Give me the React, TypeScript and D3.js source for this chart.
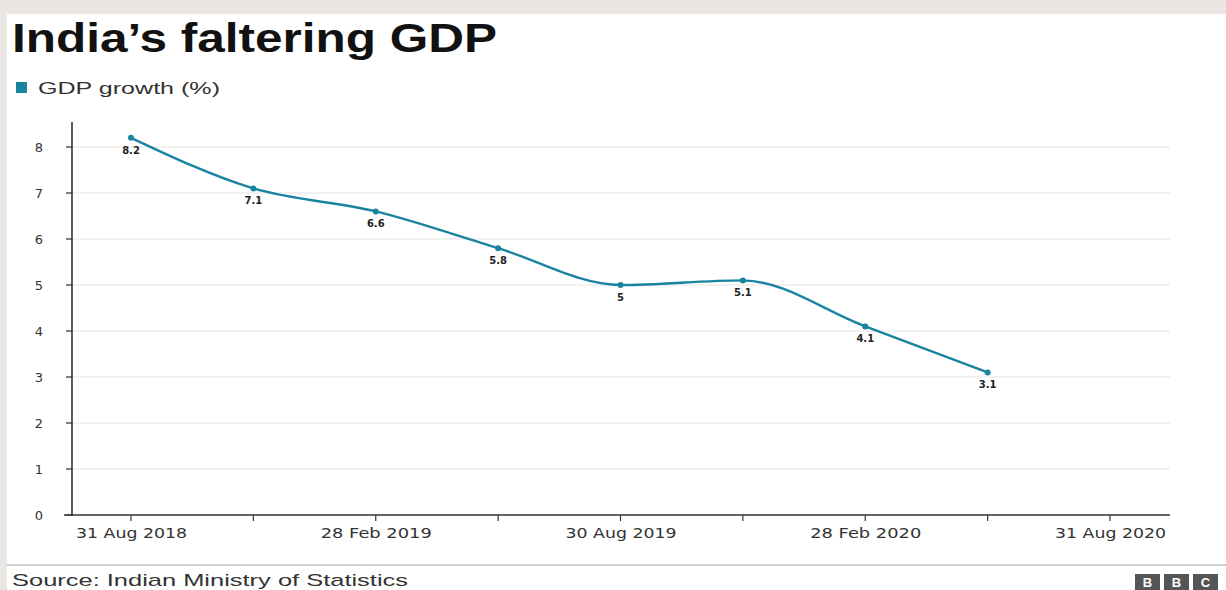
import React from "react";
import * as d3 from "d3";

const quarters = [
  "31 Aug 2018", "30 Nov 2018", "28 Feb 2019", "31 May 2019", "30 Aug 2019",
  "30 Nov 2019", "28 Feb 2020", "31 May 2020", "31 Aug 2020",
];
const tickLabels = ["31 Aug 2018", "", "28 Feb 2019", "", "30 Aug 2019", "", "28 Feb 2020", "", "31 Aug 2020"];
const gdpQuarters = quarters.slice(0, 8);
const gdpValues = [8.2, 7.1, 6.6, 5.8, 5, 5.1, 4.1, 3.1];
const gdpLabels = ["8.2", "7.1", "6.6", "5.8", "5", "5.1", "4.1", "3.1"];
const yTicks = [0, 1, 2, 3, 4, 5, 6, 7, 8];

const W = 1226, H = 590;
const TEAL = "#1a84a0";

export default function App() {
  const x = d3.scalePoint<string>().domain(quarters).range([131, 1110]);
  const y = d3.scaleLinear().domain([0, 8]).range([515, 147]);
  const line = d3.line<number>()
    .x((_, i) => x(gdpQuarters[i]) as number)
    .y((d) => y(d))
    .curve(d3.curveMonotoneX);
  const sans = "'Liberation Sans', Arial, sans-serif";
  const axisFont = "'DejaVu Sans', Verdana, sans-serif";
  return (
    <div style={{ position: "fixed", left: 0, top: 0 }}>
      <svg width={W} height={H} style={{ display: "block" }}>
        <rect x={0} y={0} width={W} height={H} fill="#e9e6e3" />
        <rect x={7} y={14} width={W - 7} height={H - 14} fill="#ffffff" />
        <text x={12} y={52} fontFamily={sans} fontWeight="bold" fontSize={41} fill="#111"
          textLength={485} lengthAdjust="spacingAndGlyphs">
          India’s faltering GDP
        </text>
        <rect x={16} y={82} width={11} height={11} fill={TEAL} />
        <text x={38} y={94} fontFamily={sans} fontSize={17} fill="#333"
          textLength={182} lengthAdjust="spacingAndGlyphs">GDP growth (%)</text>

        {yTicks.map((t) => (
          <g key={t}>
            {t > 0 && (
              <line x1={73} x2={1170} y1={y(t)} y2={y(t)} stroke="#ececec" strokeWidth={1.5} />
            )}
            <line x1={66} x2={72} y1={y(t)} y2={y(t)} stroke="#333" strokeWidth={1.2} />
            <text x={43} y={y(t) + 5} textAnchor="end" fontFamily={axisFont} fontSize={13} fill="#333">
              {t}
            </text>
          </g>
        ))}
        <line x1={72} x2={72} y1={122} y2={516} stroke="#333" strokeWidth={1.6} />
        <line x1={64} x2={1170} y1={515} y2={515} stroke="#333" strokeWidth={1.6} />
        {quarters.map((q, i) => (
          <g key={q}>
            <line x1={x(q)} x2={x(q)} y1={515} y2={521} stroke="#333" strokeWidth={1.2} />
            {tickLabels[i] && (
              <text x={(x(q) as number) - 55} y={538} fontFamily={axisFont} fontSize={14} fill="#333"
                textLength={111} lengthAdjust="spacingAndGlyphs">
                {tickLabels[i]}
              </text>
            )}
          </g>
        ))}

        <path d={line(gdpValues) || ""} fill="none" stroke={TEAL} strokeWidth={2.4} />
        {gdpValues.map((v, i) => (
          <g key={i}>
            <circle cx={x(gdpQuarters[i])} cy={y(v)} r={3} fill={TEAL} />
            <text x={x(gdpQuarters[i])} y={y(v) + 16} textAnchor="middle" fontFamily={axisFont}
              fontWeight="bold" fontSize={10} fill="#222">
              {gdpLabels[i]}
            </text>
          </g>
        ))}

        <line x1={7} x2={W} y1={565} y2={565} stroke="#cfcfcf" strokeWidth={2} />
        <text x={12} y={586} fontFamily={sans} fontSize={17} fill="#333"
          textLength={396} lengthAdjust="spacingAndGlyphs">
          Source: Indian Ministry of Statistics
        </text>
        {["B", "B", "C"].map((c, i) => (
          <g key={i}>
            <rect x={1135 + i * 29} y={574} width={25} height={16} fill="#555" />
            <text x={1147.5 + i * 29} y={587} textAnchor="middle" fontFamily={sans} fontWeight="bold"
              fontSize={13} fill="#fff">{c}</text>
          </g>
        ))}
      </svg>
    </div>
  );
}
